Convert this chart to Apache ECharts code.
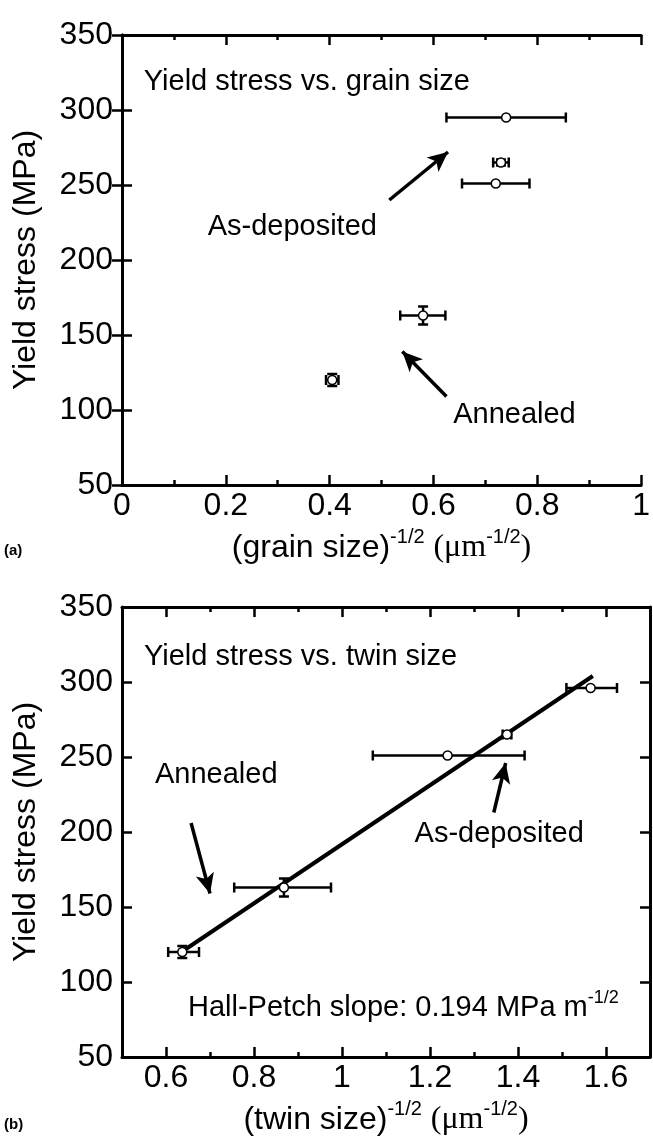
<!DOCTYPE html>
<html><head><meta charset="utf-8">
<script src="https://cdn.jsdelivr.net/npm/echarts@6/dist/echarts.min.js"></script>
<style>html,body{margin:0;padding:0;background:#fff}#c{width:653px;height:1143px}</style>
</head><body><div id="c"></div>
<script>
// ---- Panel (a): yield stress vs grain size ----
const grainX   = [0.74, 0.73, 0.72, 0.58, 0.405];
const grainY   = [295, 265, 251, 163, 120];
const grainXLo = [0.625, 0.715, 0.655, 0.536, 0.393];
const grainXHi = [0.855, 0.745, 0.785, 0.623, 0.417];
const grainYLo = [295, 263, 251, 157, 116];
const grainYHi = [295, 267, 251, 169, 124];
const grainTicks = [0, 0.2, 0.4, 0.6, 0.8, 1];

// ---- Panel (b): yield stress vs twin size ----
const twinX   = [1.565, 1.375, 1.24, 0.868, 0.637];
const twinY   = [296, 265, 251, 163, 120];
const twinXLo = [1.51, 1.365, 1.07, 0.755, 0.605];
const twinXHi = [1.625, 1.385, 1.415, 0.975, 0.675];
const twinYLo = [296, 263, 251, 157, 116];
const twinYHi = [296, 267, 251, 169, 124];
const twinTicks = [0.6, 0.8, 1, 1.2, 1.4, 1.6];
const fitLine = [[0.63, 119], [1.57, 304]];

const stressTicks = [50, 100, 150, 200, 250, 300, 350];

// annotations (data coordinates)
const grainNotes = [
  {text: 'Yield stress vs. grain size', at: [0.042, 319]},
  {text: 'As-deposited', at: [0.165, 222]},
  {text: 'Annealed', at: [0.638, 97]}
];
const grainArrows = [[[0.515, 240], [0.628, 272]], [[0.625, 109], [0.54, 139]]];
const twinNotes = [
  {text: 'Yield stress vs. twin size', at: [0.55, 317]},
  {text: 'Annealed', at: [0.575, 238]},
  {text: 'As-deposited', at: [1.165, 199]},
  {text: '{t|Hall-Petch slope: 0.194 MPa m}{s|-1/2}', at: [0.65, 83]}
];
const twinArrows = [[[0.657, 206], [0.70, 159]], [[1.345, 213], [1.372, 246]]];

const FONT = 'Liberation Sans';
const FS = 32;
const NOTE_FS = 29;

function errRender(params, api) {
  const x = api.value(0), y = api.value(1);
  const xl = api.value(2), xh = api.value(3), yl = api.value(4), yh = api.value(5);
  const L = api.coord([xl, y]), R = api.coord([xh, y]);
  const B = api.coord([x, yl]), T = api.coord([x, yh]);
  const cap = 5;
  const st = {stroke: '#000', lineWidth: 2.5};
  const ch = [];
  if (xh > xl) {
    ch.push({type: 'line', shape: {x1: L[0], y1: L[1], x2: R[0], y2: R[1]}, style: st});
    ch.push({type: 'line', shape: {x1: L[0], y1: L[1] - cap, x2: L[0], y2: L[1] + cap}, style: st});
    ch.push({type: 'line', shape: {x1: R[0], y1: R[1] - cap, x2: R[0], y2: R[1] + cap}, style: st});
  }
  if (yh > yl) {
    ch.push({type: 'line', shape: {x1: B[0], y1: B[1], x2: T[0], y2: T[1]}, style: st});
    ch.push({type: 'line', shape: {x1: B[0] - cap, y1: B[1], x2: B[0] + cap, y2: B[1]}, style: st});
    ch.push({type: 'line', shape: {x1: T[0] - cap, y1: T[1], x2: T[0] + cap, y2: T[1]}, style: st});
  }
  return {type: 'group', children: ch};
}

function rows(xs, ys, xl, xh, yl, yh) {
  return xs.map((x, i) => [x, ys[i], xl[i], xh[i], yl[i], yh[i]]);
}

const supRich = {
  t: {fontFamily: FONT, fontSize: FS, lineHeight: 42, verticalAlign: 'middle', color: '#000'},
  s: {fontFamily: FONT, fontSize: 20, lineHeight: 22, verticalAlign: 'top', color: '#000'},
  m: {fontFamily: 'Liberation Serif', fontSize: FS, lineHeight: 42, verticalAlign: 'middle', color: '#000'}
};
const noteRich = {
  t: {fontFamily: FONT, fontSize: NOTE_FS, lineHeight: 36, verticalAlign: 'middle', fill: '#000'},
  s: {fontFamily: FONT, fontSize: 18, lineHeight: 20, verticalAlign: 'top', fill: '#000'}
};

function xAxes(gridIndex, min, max, majorOpt, name) {
  const line = {show: true, lineStyle: {color: '#000', width: 3}};
  const base = {type: 'value', gridIndex, min, max, splitLine: {show: false}};
  const major = Object.assign({}, base, majorOpt, {
    position: 'bottom', axisLine: line,
    axisTick: Object.assign({inside: true, length: 10, lineStyle: {color: '#000', width: 2.5}}, majorOpt.axisTick || {}),
    axisLabel: Object.assign({fontFamily: FONT, fontSize: FS, color: '#000', margin: 5}, majorOpt.axisLabel || {}),
    name, nameLocation: 'middle', nameGap: 42, nameTextStyle: {rich: supRich}
  });
  const minor = Object.assign({}, base, {
    position: 'bottom', interval: 0.1, axisLine: {show: false},
    axisTick: {inside: true, length: 5, lineStyle: {color: '#000', width: 2.5}}, axisLabel: {show: false}
  });
  const topMajor = Object.assign({}, base, majorOpt, {
    position: 'top', axisLine: line,
    axisTick: Object.assign({inside: true, length: 10, lineStyle: {color: '#000', width: 2.5}}, majorOpt.axisTick || {}),
    axisLabel: {show: false}
  });
  const topMinor = Object.assign({}, minor, {position: 'top'});
  return [major, minor, topMajor, topMinor];
}

function yAxes(gridIndex) {
  const line = {show: true, lineStyle: {color: '#000', width: 3}};
  const base = {type: 'value', gridIndex, min: 50, max: 350, interval: 50, splitLine: {show: false},
    axisLine: line, axisTick: {inside: true, length: 10, lineStyle: {color: '#000', width: 2.5}}};
  return [
    Object.assign({}, base, {position: 'left',
      axisLabel: {fontFamily: FONT, fontSize: FS, color: '#000', margin: 9, customValues: stressTicks},
      name: 'Yield stress (MPa)', nameLocation: 'middle', nameGap: 80,
      nameTextStyle: {fontFamily: FONT, fontSize: FS, color: '#000'}}),
    Object.assign({}, base, {position: 'right', axisLabel: {show: false}})
  ];
}

const xAxis = [].concat(
  xAxes(0, 0, 1, {interval: 0.2, axisLabel: {customValues: grainTicks}, axisTick: {customValues: grainTicks}},
    '{t|(grain size)}{s|-1/2}{t| }{m|(μm}{s|-1/2}{m|)}'),
  xAxes(1, 0.5, 1.7, {interval: 0.1, axisLabel: {customValues: twinTicks}, axisTick: {customValues: twinTicks}},
    '{t|(twin size)}{s|-1/2}{t| }{m|(μm}{s|-1/2}{m|)}')
);
const yAxis = [].concat(yAxes(0), yAxes(1));

function noteSeries(notes, xi, yi) {
  return {
    type: 'custom', xAxisIndex: xi, yAxisIndex: yi, silent: true, z: 6,
    data: notes.map(n => n.at),
    renderItem: (params, api) => {
      const p = api.coord([api.value(0), api.value(1)]);
      const txt = notes[params.dataIndex].text;
      const isRich = txt.charAt(0) === '{';
      return {
        type: 'text', x: p[0], y: p[1],
        style: {
          text: isRich ? txt : '{t|' + txt + '}', rich: noteRich,
          fill: '#000', align: 'left', verticalAlign: 'middle', opacity: 1
        }
      };
    }
  };
}

function arrowSeries(arrows, xi, yi) {
  return {
    type: 'line', xAxisIndex: xi, yAxisIndex: yi, data: [], silent: true,
    markLine: {
      silent: true, animation: false, symbol: ['none', 'arrow'], symbolSize: [14, 20],
      lineStyle: {color: '#000', width: 3.5, type: 'solid'}, label: {show: false},
      data: arrows.map(a => [{coord: a[0]}, {coord: a[1]}])
    }
  };
}

const series = [
  // Panel (a)
  {type: 'custom', xAxisIndex: 0, yAxisIndex: 0, renderItem: errRender, z: 3,
   data: rows(grainX, grainY, grainXLo, grainXHi, grainYLo, grainYHi)},
  {type: 'scatter', xAxisIndex: 0, yAxisIndex: 0, symbol: 'circle', symbolSize: 9, z: 4,
   itemStyle: {color: '#fff', borderColor: '#000', borderWidth: 1.5, opacity: 1},
   data: grainX.map((x, i) => [x, grainY[i]])},
  noteSeries(grainNotes, 0, 0),
  arrowSeries(grainArrows, 0, 0),
  // Panel (b)
  {type: 'line', xAxisIndex: 4, yAxisIndex: 2, data: fitLine, showSymbol: false, z: 2,
   lineStyle: {color: '#000', width: 4}},
  {type: 'custom', xAxisIndex: 4, yAxisIndex: 2, renderItem: errRender, z: 3,
   data: rows(twinX, twinY, twinXLo, twinXHi, twinYLo, twinYHi)},
  {type: 'scatter', xAxisIndex: 4, yAxisIndex: 2, symbol: 'circle', symbolSize: 9, z: 4,
   itemStyle: {color: '#fff', borderColor: '#000', borderWidth: 1.5, opacity: 1},
   data: twinX.map((x, i) => [x, twinY[i]])},
  noteSeries(twinNotes, 4, 2),
  arrowSeries(twinArrows, 4, 2)
];

const chart = echarts.init(document.getElementById('c'), null, {renderer: 'canvas'});
chart.setOption({
  animation: false,
  backgroundColor: '#fff',
  grid: [
    {left: 122, right: 3, top: 35, height: 450},
    {left: 122, right: 3, top: 607, height: 450}
  ],
  xAxis, yAxis, series,
  graphic: [
    {type: 'text', left: 4, top: 543, style: {text: '(a)', fontFamily: FONT, fontWeight: 'bold', fontSize: 15, fill: '#000'}},
    {type: 'text', left: 4, top: 1117, style: {text: '(b)', fontFamily: FONT, fontWeight: 'bold', fontSize: 15, fill: '#000'}}
  ]
});
</script>
</body></html>
